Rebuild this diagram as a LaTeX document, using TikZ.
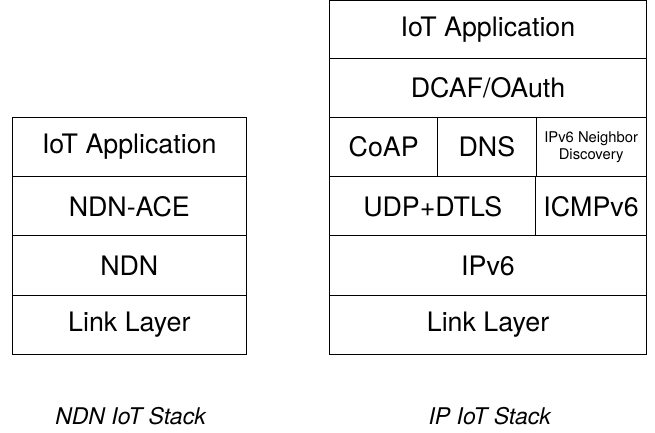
\documentclass[tikz,border=0pt]{standalone}
\usepackage{fontspec}
\setmainfont{TeX Gyre Heros}
\tikzset{
  layer/.style={draw, line width=1pt, inner sep=0pt, outer sep=0pt,
    minimum height=59.3pt, font=\fontsize{26.8}{30}\selectfont},
  caption/.style={font=\fontsize{23}{26}\selectfont\itshape}
}
\begin{document}
\begin{tikzpicture}[x=1pt,y=-1pt]
  \useasboundingbox (0,0) rectangle (655,432);

  % NDN stack
  \node[layer, minimum width=233.5pt] (ndnapp) at (129.3,147.0) {IoT Application};
  \node[layer, minimum width=233.5pt] (ndnace) at (129.3,206.3) {NDN-ACE};
  \node[layer, minimum width=233.5pt] (ndn)    at (129.3,265.6) {NDN};
  \node[layer, minimum width=233.5pt] (ndnlink) at (129.3,325.0) {Link Layer};
  \node[caption] (ndncap) at (130.5,416) {NDN IoT Stack};

  % IP stack
  \node[layer, minimum width=316.6pt, minimum height=58.2pt] (ipapp) at (488,29.6) {IoT Application};
  \node[layer, minimum width=316.6pt] (dcaf) at (488,88.0) {DCAF/OAuth};
  \node[layer, minimum width=108pt]   (coap) at (383.7,147.0) {CoAP};
  \node[layer, minimum width=98.3pt]  (dns)  at (486.85,147.0) {DNS};
  \node[layer, minimum width=110.3pt, align=center,
        font=\fontsize{14.8}{17.4}\selectfont] (nd) at (591.15,147.0) {IPv6 Neighbor\\Discovery};
  \node[layer, minimum width=206.1pt] (udp)  at (432.75,206.3) {UDP+DTLS};
  \node[layer, minimum width=110.5pt] (icmp) at (591.05,206.3) {ICMPv6};
  \node[layer, minimum width=316.6pt] (ipv6) at (488,265.6) {IPv6};
  \node[layer, minimum width=316.6pt] (iplink) at (488,325.0) {Link Layer};
  \node[caption] (ipcap) at (489.7,416) {IP IoT Stack};
\end{tikzpicture}
\end{document}
